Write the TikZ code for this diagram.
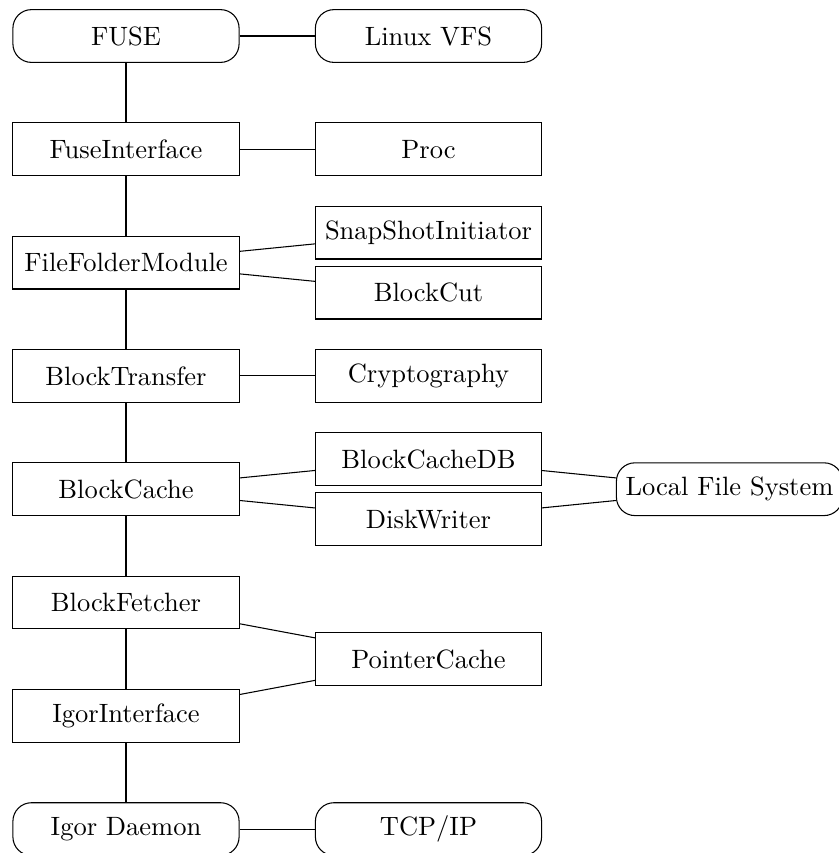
\documentclass[tikz,border=0pt]{standalone}
\begin{document}
\begin{tikzpicture}[x=0.3774pt, y=-0.3774pt,
  modbox/.style={draw, rectangle, minimum width=3cm, minimum height=0.7cm, inner sep=3.33pt},
  extbox/.style={modbox, rounded corners=7pt}]
\useasboundingbox (0,0) rectangle (839,853);

% main module chain (left column)
\node[extbox] (fuse)  at (126,36.0)  {FUSE};
\node[modbox] (fi)    at (126,149.3) {FuseInterface};
\node[modbox] (ffm)   at (126,262.6) {FileFolderModule};
\node[modbox] (bt)    at (126,375.9) {BlockTransfer};
\node[modbox] (bc)    at (126,489.2) {BlockCache};
\node[modbox] (bf)    at (126,602.5) {BlockFetcher};
\node[modbox] (ii)    at (126,715.8) {IgorInterface};
\node[extbox] (igor)  at (126,829.1) {Igor Daemon};

% helper modules (right column)
\node[extbox] (vfs)    at (428.5,36.0)  {Linux VFS};
\node[modbox] (proc)   at (428.5,149.3) {Proc};
\node[modbox] (snap)   at (428.5,232.6) {SnapShotInitiator};
\node[modbox] (cut)    at (428.5,292.6) {BlockCut};
\node[modbox] (crypto) at (428.5,375.9) {Cryptography};
\node[modbox] (bcdb)   at (428.5,459.2) {BlockCacheDB};
\node[modbox] (dw)     at (428.5,519.2) {DiskWriter};
\node[modbox] (pc)     at (428.5,659.1) {PointerCache};
\node[extbox] (tcp)    at (428.5,829.1) {TCP/IP};

% storage backend
\node[extbox] (lfs) at (729.5,489.2) {Local File System};

% connections
\draw (fuse) -- (fi) -- (ffm) -- (bt) -- (bc) -- (bf) -- (ii) -- (igor);
\draw (fuse) -- (vfs);
\draw (fi) -- (proc);
\draw (ffm) -- (snap);
\draw (ffm) -- (cut);
\draw (bt) -- (crypto);
\draw (bc) -- (bcdb);
\draw (bc) -- (dw);
\draw (bcdb) -- (lfs);
\draw (dw) -- (lfs);
\draw (bf) -- (pc);
\draw (ii) -- (pc);
\draw (igor) -- (tcp);
\end{tikzpicture}
\end{document}
